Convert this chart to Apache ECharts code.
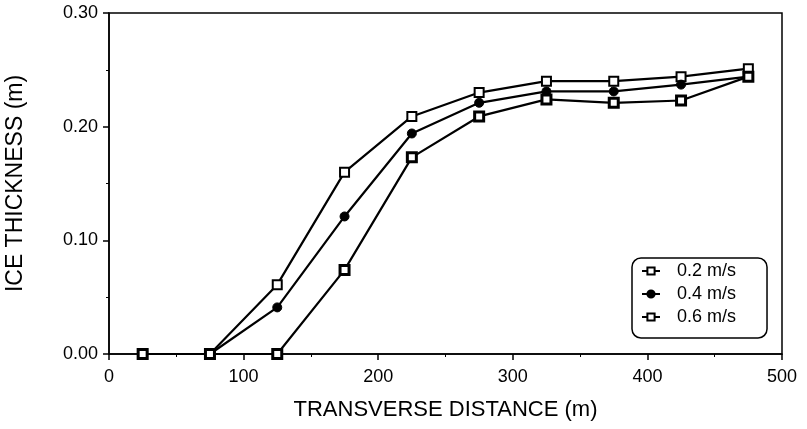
<!DOCTYPE html>
<html>
<head>
<meta charset="utf-8">
<script src="https://cdn.jsdelivr.net/npm/echarts@6/dist/echarts.min.js"></script>
<style>
  html, body { margin: 0; padding: 0; background: #fff; }
  #main { width: 807px; height: 429px; }
</style>
</head>
<body>
<div id="main"></div>
<script>
// transverse distance (m)
const distance = [25, 75, 125, 175, 225, 275, 325, 375, 425, 475]
// ice thickness (m) for each velocity
const v02 = [0, 0, 0.061, 0.16, 0.209, 0.23, 0.24, 0.24, 0.244, 0.251]
const v04 = [0, 0, 0.041, 0.121, 0.194, 0.221, 0.231, 0.231, 0.237, 0.244]
const v06 = [0, 0, 0, 0.074, 0.173, 0.209, 0.224, 0.221, 0.223, 0.244]
const seriesNames = ["0.2 m/s", "0.4 m/s", "0.6 m/s"]

const pairs = ys => distance.map((x, i) => [x, ys[i]])
const font = "Liberation Sans, Arial, sans-serif"

const myChart = echarts.init(document.getElementById("main"))

const base = {
  type: "line",
  symbolSize: 9,
  lineStyle: { color: "#000", width: 2.2 },
  z: 3,
}

myChart.setOption({
  animation: false,
  grid: {
    left: 109, right: 25, top: 13, bottom: 75,
    outerBoundsMode: "none",
    containLabel: false,
    show: true, borderColor: "#000", borderWidth: 1.5,
  },
  legend: {
    left: 632, top: 258,
    orient: "vertical",
    padding: [4, 31, 12, 9],
    itemGap: 5,
    itemWidth: 18, itemHeight: 9,
    borderColor: "#000", borderWidth: 1.5, borderRadius: 9,
    textStyle: { fontFamily: font, fontSize: 18, color: "#000", padding: [0, 0, 0, 12] },
    data: seriesNames,
  },
  xAxis: {
    type: "value", min: 0, max: 500, interval: 100,
    name: "TRANSVERSE DISTANCE (m)",
    nameLocation: "middle", nameGap: 45,
    nameTextStyle: { fontFamily: font, fontSize: 22, color: "#000" },
    axisLine: { lineStyle: { color: "#000", width: 1.5 } },
    axisTick: { show: true, length: 6, lineStyle: { color: "#000", width: 1.5 } },
    minorTick: { show: true, splitNumber: 2, length: 3, lineStyle: { color: "#000" } },
    axisLabel: { fontFamily: font, fontSize: 18, color: "#000", margin: 14 },
    splitLine: { show: false },
  },
  yAxis: {
    type: "value", min: 0, max: 0.3, interval: 0.1,
    name: "ICE THICKNESS (m)",
    nameLocation: "middle", nameGap: 82,
    nameTextStyle: { fontFamily: font, fontSize: 23, color: "#000" },
    axisLine: { show: true, lineStyle: { color: "#000", width: 1.5 } },
    axisTick: { show: true, length: 6, lineStyle: { color: "#000", width: 1.5 } },
    minorTick: { show: true, splitNumber: 2, length: 3, lineStyle: { color: "#000" } },
    axisLabel: {
      fontFamily: font, fontSize: 18, color: "#000", margin: 11,
      formatter: v => v.toFixed(2),
    },
    splitLine: { show: false },
  },
  series: [
    {
      ...base, name: seriesNames[0], data: pairs(v02),
      symbol: "rect",
      itemStyle: { color: "#fff", borderColor: "#000", borderWidth: 2 },
    },
    {
      ...base, name: seriesNames[1], data: pairs(v04),
      symbol: "circle",
      itemStyle: { color: "#000", borderColor: "#000", borderWidth: 1 },
    },
    {
      ...base, name: seriesNames[2], data: pairs(v06),
      symbol: "rect",
      itemStyle: { color: "#fff", borderColor: "#000", borderWidth: 3 },
    },
  ],
})
</script>
</body>
</html>
